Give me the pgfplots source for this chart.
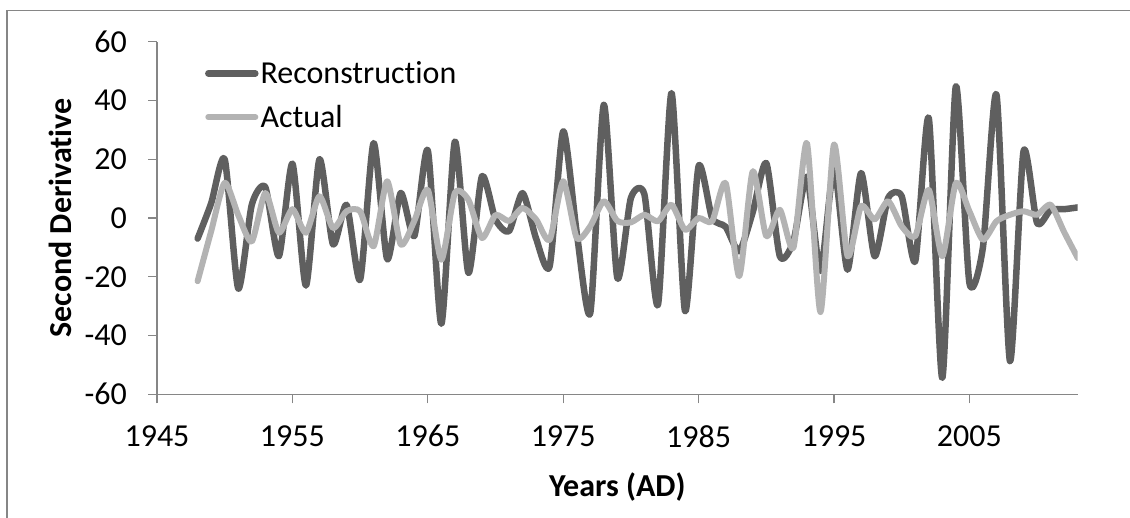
\documentclass[border=0pt]{standalone}
\usepackage{pgfplots}
\pgfplotsset{compat=1.18}
\usepackage{fontspec}
\setmainfont{Carlito}[RawFeature={-liga}]

\definecolor{recon}{HTML}{5F5F5F}
\definecolor{actual}{HTML}{B3B3B3}
\definecolor{axgray}{HTML}{868686}

\begin{document}
\begin{tikzpicture}
  \useasboundingbox (0,0) rectangle (1130bp,518bp);
  % chart border (only top and left edges fall inside the picture)
  \draw[axgray, line width=1.3bp] (7bp,-5bp) -- (7bp,507.3bp) -- (1140bp,507.3bp);

  \begin{axis}[
      at={(157bp,123.7bp)}, anchor=south west,
      scale only axis, width=920.7bp, height=352.6bp,
      xmin=1945, xmax=2013, ymin=-60, ymax=60,
      xtick={1945,1955,...,2005}, ytick={-60,-40,...,60},
      axis x line*=bottom, axis y line*=left,
      axis line style={draw=axgray, line width=1.2bp, -},
      tick style={draw=axgray, line width=1.2bp},
      tick align=outside, major tick length=9bp,
      font=\fontsize{32bp}{38bp}\selectfont,
      /pgf/number format/assume math mode=true,
      /pgf/number format/1000 sep={},
      xticklabel style={anchor=center, inner sep=0pt, yshift=-33bp},
      yticklabel style={anchor=east, inner sep=0pt, xshift=-21bp},
      xlabel={\textbf{Years (AD)}},
      ylabel={\textbf{Second Derivative}},
      every axis x label/.style={at={(axis description cs:0.5,-0.263)}, anchor=center},
      every axis y label/.style={at={(axis description cs:-0.1054,0.5)}, rotate=90, anchor=center},
      legend style={draw=none, fill=none, at={(0.052,0.848)}, anchor=west,
        inner sep=0pt, row sep=20bp, nodes={inner sep=0pt},
        /tikz/every odd column/.append style={column sep=2bp}},
      legend cell align=left,
      legend image code/.code={\draw[#1] (3bp,0bp) -- (50bp,0bp);},
    ]

    % Reconstruction
    \addplot[recon, line width=6.5bp, smooth, tension=0.4, line join=round, line cap=round] coordinates {
      (1948,-7) (1949,5) (1950,20) (1951,-24) (1952,4.5) (1953,10.5) (1954,-13)
      (1955,18.5) (1956,-23) (1957,20) (1958,-9) (1959,4.5) (1960,-21) (1961,25.5)
      (1962,-14) (1963,8.5) (1964,-6.2) (1965,23) (1966,-36) (1967,26) (1968,-18.7)
      (1969,14.2) (1970,-0.5) (1971,-4.5) (1972,8.5) (1973,-7) (1974,-16.4) (1975,29.5)
      (1976,-5) (1977,-32.3) (1978,38.5) (1979,-20.4) (1980,6.8) (1981,8) (1982,-29.5)
      (1983,42.5) (1984,-31.7) (1985,17.6) (1986,0) (1987,-3) (1988,-11.3) (1989,2)
      (1990,18.7) (1991,-13) (1992,-8) (1993,14) (1994,-18) (1995,17) (1996,-17.6)
      (1997,15.3) (1998,-13) (1999,6.8) (2000,7.4) (2001,-14.7) (2002,34) (2003,-54.4)
      (2004,44.8) (2005,-22) (2006,-10) (2007,42) (2008,-48.7) (2009,22.7) (2010,-1.7)
      (2011,2.8) (2012,3) (2013,3.6)
    };
    \addlegendentry{Reconstruction}

    % Actual
    \addplot[actual, line width=6bp, smooth, tension=0.4, line join=round, line cap=round] coordinates {
      (1948,-21.5) (1949,-4.5) (1950,12) (1951,1) (1952,-8) (1953,8.5) (1954,-5)
      (1955,3) (1956,-5) (1957,7.4) (1958,-3.4) (1959,2.3) (1960,2.3) (1961,-9.6)
      (1962,12.5) (1963,-9) (1964,-1) (1965,9.6) (1966,-14.2) (1967,8.5) (1968,6.2)
      (1969,-6.8) (1970,1) (1971,-1) (1972,3.4) (1973,-0.5) (1974,-7.4) (1975,12.5)
      (1976,-6.8) (1977,-2.8) (1978,5.7) (1979,-1) (1980,-1.5) (1981,1.1) (1982,-1.1)
      (1983,4.5) (1984,-4) (1985,0) (1986,-1.1) (1987,11.9) (1988,-19.8) (1989,15.9)
      (1990,-6.2) (1991,2.8) (1992,-10.2) (1993,25.5) (1994,-32) (1995,25) (1996,-13)
      (1997,4) (1998,-0.5) (1999,5.7) (2000,-2.8) (2001,-6.2) (2002,9.6) (2003,-13)
      (2004,11.9) (2005,2.3) (2006,-7.4) (2007,-1.1) (2008,1.1) (2009,2.3) (2010,1.1)
      (2011,4.5) (2012,-4.8) (2013,-13.6)
    };
    \addlegendentry{Actual}

  \end{axis}
\end{tikzpicture}
\end{document}
